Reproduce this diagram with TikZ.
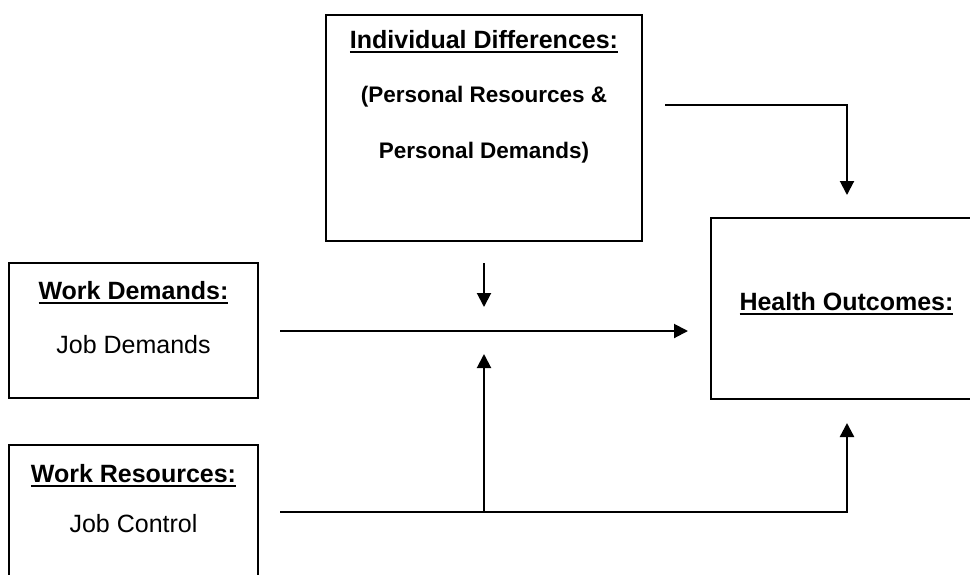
\documentclass[tikz,border=0pt]{standalone}
\usepackage{fontspec}
\setmainfont{Liberation Sans}
\usetikzlibrary{arrows.meta,positioning,calc}

\newcommand{\headul}[1]{\setbox0\hbox{#1}\rlap{\rule[-2.6pt]{\wd0}{1.1pt}}\box0}

\tikzset{
  box/.style={draw, line width=1pt, inner sep=0pt},
  head/.style={anchor=base, font=\fontsize{12.5}{15}\selectfont\bfseries},
  paren/.style={anchor=base, font=\fontsize{11.25}{14}\selectfont\bfseries},
  plain/.style={anchor=base, font=\fontsize{12.5}{15}\selectfont},
  link/.style={line width=1pt, -{Triangle[length=7pt,width=7pt]}},
}

\begin{document}
\begin{tikzpicture}[x=0.5pt, y=-0.5pt]
            \useasboundingbox (0,0) rectangle (970,574);

            % boxes
            \node[box, minimum width=158pt, minimum height=113pt] (indiv) at (484,128) {};
            \node[box, minimum width=124.5pt, minimum height=67.5pt] (wdem) at (133.5,330.5) {};
            \node[box, minimum width=124.5pt, minimum height=69.5pt] (wres) at (133.5,514.5) {};
            \node[box, minimum width=135.5pt, minimum height=90.5pt] (health) at (846.5,308.5) {};

            % box texts
            \node[head] (indivT) at (484,48) {\headul{Individual Differences:}};
            \node[paren] (indivA) at (484,102) {(Personal Resources \&};
            \node[paren] (indivB) at (484,158) {Personal Demands)};
            \node[head] (wdemT) at (133.5,299) {\headul{Work Demands:}};
            \node[plain] (wdemA) at (133.5,353) {Job Demands};
            \node[head] (wresT) at (133.5,482) {\headul{Work Resources:}};
            \node[plain] (wresA) at (133.5,532) {Job Control};
            \node[head] (healthT) at (846.5,310) {\headul{Health Outcomes:}};

            % arrow ends
            \coordinate (pdStart) at (665,105);
            \coordinate (pdEnd) at (847,195);
            \coordinate (modTop) at (484,263);
            \coordinate (modMid) at (484,307);
            \coordinate (jdStart) at (280,331);
            \coordinate (jdEnd) at (688,331);
            \coordinate (jcStart) at (280,512);
            \coordinate (jcSplit) at (484,512);
            \coordinate (jcUp) at (484,354);
            \coordinate (jcEnd) at (847,423);

            % arrows
            \draw[link] (pdStart) -| (pdEnd);
            \draw[link] (modTop) -- (modMid);
            \draw[link] (jdStart) -- (jdEnd);
            \draw[link, line width=1.2pt] (jcStart) -| (jcEnd);
            \draw[link] (jcSplit) -- (jcUp);
        \end{tikzpicture}
\end{document}
